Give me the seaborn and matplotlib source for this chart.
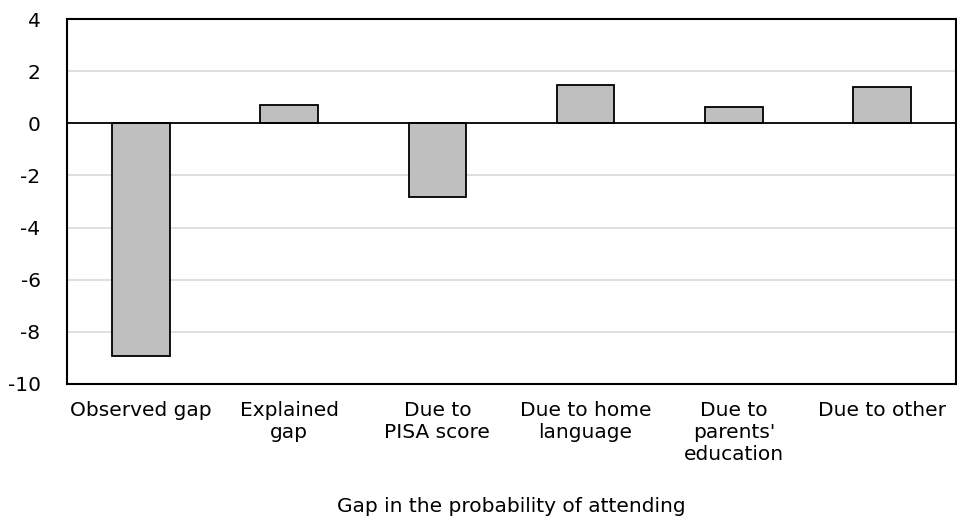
import matplotlib
matplotlib.use("Agg")
import matplotlib.pyplot as plt
import seaborn as sns
import pandas as pd

categories = ["Observed gap", "Explained\ngap", "Due to\nPISA score", "Due to home\nlanguage",
              "Due to\nparents'\neducation", "Due to other"]
gap_values = [-8.94, 0.69, -2.83, 1.46, 0.61, 1.38]
y_ticks = [4, 2, 0, -2, -4, -6, -8, -10]

df = pd.DataFrame({"category": categories, "gap": gap_values})

sns.set_style("white")
plt.rcParams["font.family"] = ["DejaVu Sans"]
plt.rcParams["axes.unicode_minus"] = False
plt.rcParams["text.color"] = "black"
plt.rcParams["axes.labelcolor"] = "black"

fig, ax = plt.subplots(figsize=(9.57, 5.18), dpi=100)
fig.subplots_adjust(left=0.070, right=0.999, top=0.963, bottom=0.259)

for t in y_ticks:
    if t not in (0, 4, -10):
        ax.axhline(t, color="#d9d9d9", lw=1.2, zorder=0)

sns.barplot(data=df, x="category", y="gap", color="#bfbfbf", edgecolor="black",
            linewidth=1.3, width=0.39, saturation=1, ax=ax, zorder=2)
ax.axhline(0, color="black", lw=1.3, zorder=3)

ax.set_ylim(-10, 4)
ax.set_yticks(y_ticks)
ax.set_xlim(-0.5, 5.5)
ax.tick_params(axis="both", length=0, labelsize=14.5, colors="black")
ax.tick_params(axis="x", pad=12)
ax.tick_params(axis="y", pad=19)
ax.set_ylabel("")
ax.set_xlabel("Gap in the probability of attending", fontsize=14.5, labelpad=24)
for s in ax.spines.values():
    s.set_visible(True)
    s.set_color("black")
    s.set_linewidth(1.5)

fig.savefig("out.png", dpi=100)
